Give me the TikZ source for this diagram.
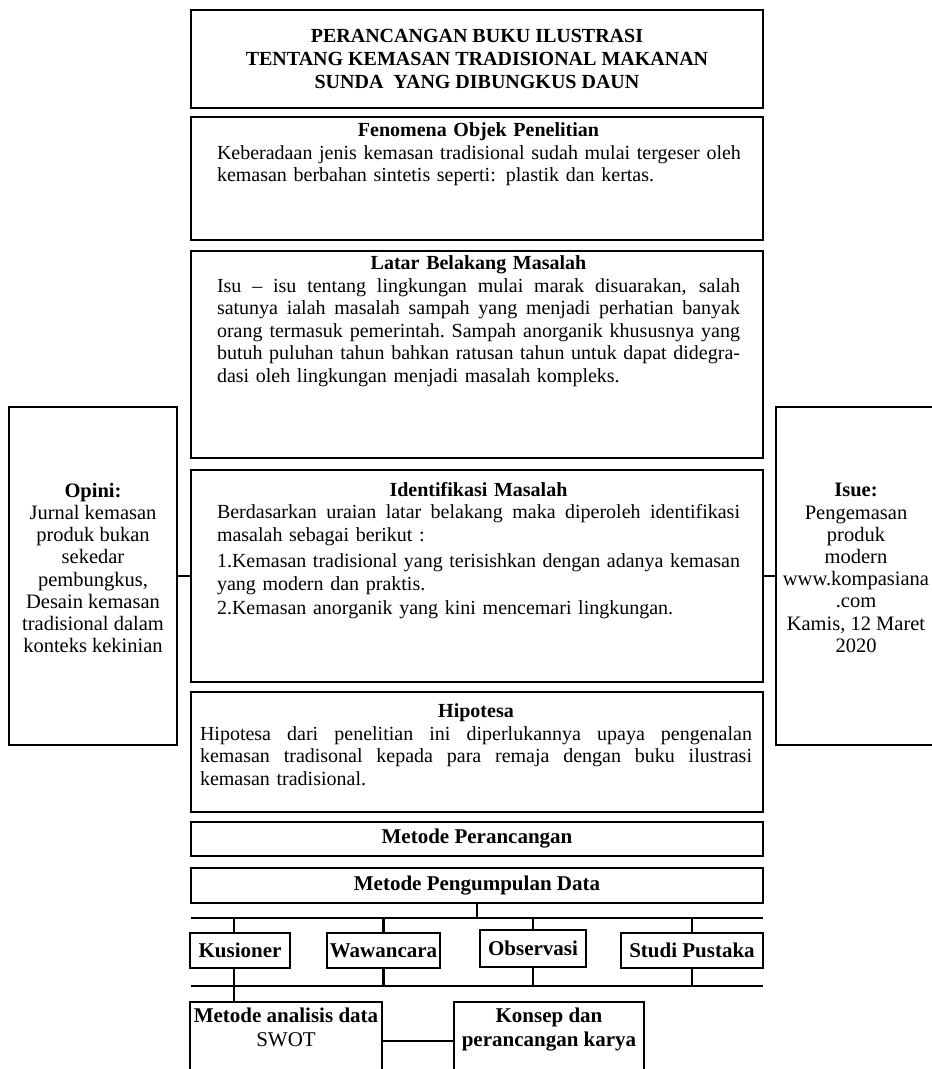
\documentclass[tikz,border=0pt]{standalone}
\usepackage{fontspec}
\setmainfont{Liberation Serif}
\newcommand\jline[2][523pt]{\makebox[#1][s]{\spaceskip=\fontdimen2\font plus 1fil\xspaceskip=\spaceskip\relax #2}}
\newcommand\lline[2][523pt]{\makebox[#1][l]{#2}}
\tikzset{
  box/.style={draw, line width=2.8pt, inner sep=0pt, outer sep=0pt, anchor=north west},
  conn/.style={line width=2.2pt},
  body/.style={font=\fontsize{20}{22.5}\selectfont, inner sep=0pt, outer sep=0pt, anchor=north, text width=#1, align=center},
  ctext/.style={font=\fontsize{20.5}{22.2}\selectfont, align=center, inner sep=0pt},
  btext/.style={font=\fontsize{20}{23}\selectfont\bfseries, align=center},
  lbtext/.style={font=\fontsize{21}{24}\selectfont\bfseries, align=center},
}
\begin{document}
\begin{tikzpicture}[x=1pt,y=-1pt]
\useasboundingbox (0,0) rectangle (932,1069);
% main column
\node[box, btext, minimum width=572, minimum height=98] (title) at (191,10)
  {PERANCANGAN BUKU ILUSTRASI\\TENTANG KEMASAN TRADISIONAL MAKANAN\\SUNDA\ \ YANG DIBUNGKUS DAUN};
\node[box, minimum width=572, minimum height=123] (fen) at (191,117) {};
\node[body=523pt] (fentext) at (478.5,123)
  {\textbf{Fenomena Objek Penelitian}\\
   \lline{Keberadaan jenis kemasan tradisional sudah mulai tergeser oleh}\\
   \lline{kemasan berbahan sintetis seperti: plastik dan kertas.}};
\node[box, minimum width=572, minimum height=207] (latar) at (191,251) {};
\node[body=523pt] (latartext) at (478.5,256)
  {\textbf{Latar Belakang Masalah}\\
   \jline{Isu -- isu tentang lingkungan mulai marak disuarakan, salah}\\
   \jline{satunya ialah masalah sampah yang menjadi perhatian banyak}\\
   \jline{orang termasuk pemerintah. Sampah anorganik khususnya yang}\\
   \jline{butuh puluhan tahun bahkan ratusan tahun untuk dapat didegra-}\\
   \lline{dasi oleh lingkungan menjadi masalah kompleks.}};
\node[box, minimum width=572, minimum height=212] (ident) at (191,470) {};
\node[body=523pt] (identtext) at (478.5,482)
  {\textbf{Identifikasi Masalah}\\
   \jline{Berdasarkan uraian latar belakang maka diperoleh identifikasi}\\
   \lline{masalah sebagai berikut :}\\[4pt]
   \jline{1.Kemasan tradisional yang terisishkan dengan adanya kemasan}\\
   \lline{yang modern dan praktis.}\\[2pt]
   \lline{2.Kemasan anorganik yang kini mencemari lingkungan.}};
\node[box, minimum width=572, minimum height=120] (hipo) at (191,692) {};
\node[body=552pt] (hipotext) at (476,704)
  {\textbf{Hipotesa}\\
   \jline[552pt]{Hipotesa dari penelitian ini diperlukannya upaya pengenalan}\\
   \jline[552pt]{kemasan tradisonal kepada para remaja dengan buku ilustrasi}\\
   \lline[552pt]{kemasan tradisional.}};
\node[box, lbtext, minimum width=572, minimum height=34] (mper) at (191,822) {Metode Perancangan};
\node[box, lbtext, minimum width=572, minimum height=35] (mpeng) at (191,868) {Metode Pengumpulan Data};
% side boxes
\node[box, minimum width=168, minimum height=338] (opini) at (9,407) {};
\node[ctext] (opinitext) at (opini.center |- 0,568)
  {\textbf{Opini:}\\Jurnal kemasan\\produk bukan\\sekedar\\pembungkus,\\Desain kemasan\\tradisional dalam\\konteks kekinian};
\node[box, minimum width=160, minimum height=338] (isue) at (776,407) {};
\node[ctext] (isuetext) at (isue.center |- 0,568)
  {\textbf{Isue:}\\Pengemasan\\produk\\modern\\www.kompasiana\\.com\\Kamis, 12 Maret\\2020};
\draw[conn] (opini.east) -- (opini.east -| ident.west);
\draw[conn] (isue.west) -- (isue.west -| ident.east);
% data collection
\node[box, lbtext, minimum width=100, minimum height=35] (kus) at (190,933) {Kusioner};
\node[box, lbtext, minimum width=113, minimum height=35] (waw) at (327,933) {Wawancara};
\node[box, lbtext, minimum width=106, minimum height=37] (obs) at (480,930) {Observasi};
\node[box, lbtext, minimum width=142, minimum height=35] (studi) at (621,933) {Studi Pustaka};
\coordinate (busAl) at (191,918);
\coordinate (busAr) at (763,918);
\coordinate (busBl) at (191,986);
\coordinate (busBr) at (763,986);
\draw[conn] (busAl) -- (busAr);
\draw[conn] (busBl) -- (busBr);
\draw[conn] (mpeng.south) -- (mpeng.south |- busAl);
\draw[conn] ([xshift=-6pt]kus.north) -- ([xshift=-6pt]kus.north |- busAl);
\draw[conn] (waw.north) -- (waw.north |- busAl);
\draw[conn] (obs.north) -- (obs.north |- busAl);
\draw[conn] (studi.north) -- (studi.north |- busAl);
\draw[conn] (waw.south) -- (waw.south |- busBl);
\draw[conn] (obs.south) -- (obs.south |- busBl);
\draw[conn] (studi.south) -- (studi.south |- busBl);
% analysis
\node[box, minimum width=192, minimum height=80] (manal) at (190,1002) {};
\node[box, minimum width=190, minimum height=80] (konsep) at (454,1002) {};
\node[lbtext, anchor=north, inner sep=0pt] (manaltext) at (286,1008)
  {Metode analisis data\\\mdseries SWOT};
\node[lbtext, anchor=north, inner sep=0pt] (konseptext) at (549,1008)
  {Konsep dan\\perancangan karya};
\draw[conn] ([xshift=-6pt]kus.south) -- ([xshift=-6pt]kus.south |- manal.north);
\coordinate (cy) at (0,1041);
\draw[conn] (manal.east |- cy) -- (konsep.west |- cy);
\end{tikzpicture}
\end{document}
